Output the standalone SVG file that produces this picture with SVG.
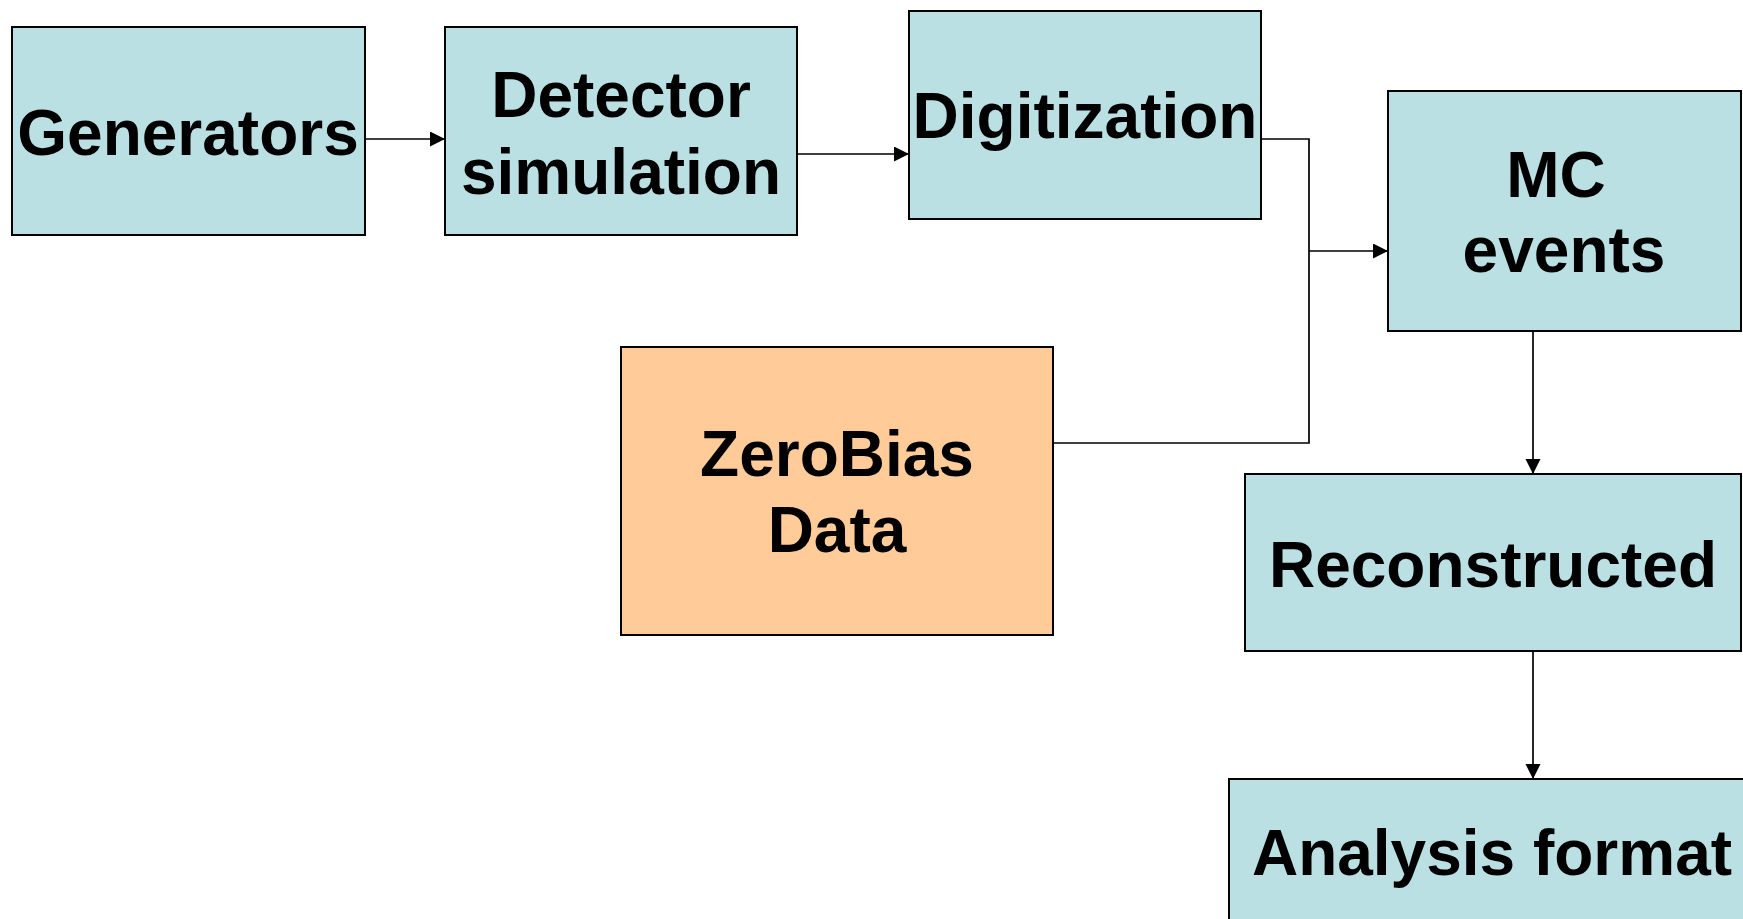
<svg xmlns="http://www.w3.org/2000/svg" width="1743" height="919" viewBox="0 0 1743 919">
  <style>
    .box { fill: #BBE0E3; stroke: #000; stroke-width: 2; }
    .box.data { fill: #FFCC99; }
    .label { font-family: "Liberation Sans", Arial, sans-serif; font-weight: bold; font-size: 64px; fill: #000; text-anchor: middle; }
    .wire { fill: none; stroke: #000; stroke-width: 1.7; }
  </style>
  <defs>
    <marker id="arrow" markerUnits="userSpaceOnUse" markerWidth="16" markerHeight="16" refX="15" refY="7.5" orient="auto">
      <path d="M0,0 L15,7.5 L0,15 z" fill="#000"/>
    </marker>
  </defs>
  <rect width="1743" height="919" fill="#fff"/>

  <g id="connectors">
    <line class="wire" x1="365" y1="139" x2="445" y2="139" marker-end="url(#arrow)"/>
    <line class="wire" x1="797" y1="154" x2="909" y2="154" marker-end="url(#arrow)"/>
    <polyline class="wire" points="1261,139 1309,139 1309,443 1053,443"/>
    <line class="wire" x1="1309" y1="251" x2="1388" y2="251" marker-end="url(#arrow)"/>
    <line class="wire" x1="1533" y1="331" x2="1533" y2="474" marker-end="url(#arrow)"/>
    <line class="wire" x1="1533" y1="651" x2="1533" y2="779" marker-end="url(#arrow)"/>
  </g>

  <g id="generators">
    <rect class="box" x="12" y="27" width="353" height="208"/>
    <text class="label" x="188" y="155">Generators</text>
  </g>

  <g id="detector-simulation">
    <rect class="box" x="445" y="27" width="352" height="208"/>
    <text class="label" x="621" y="117">Detector</text>
    <text class="label" x="621" y="194">simulation</text>
  </g>

  <g id="digitization">
    <rect class="box" x="909" y="11" width="352" height="208"/>
    <text class="label" x="1085" y="138">Digitization</text>
  </g>

  <g id="mc-events">
    <rect class="box" x="1388" y="91" width="353" height="240"/>
    <text class="label" x="1556" y="197">MC</text>
    <text class="label" x="1564" y="272">events</text>
  </g>

  <g id="zerobias-data">
    <rect class="box data" x="621" y="347" width="432" height="288"/>
    <text class="label" x="837" y="476">ZeroBias</text>
    <text class="label" x="837" y="552">Data</text>
  </g>

  <g id="reconstructed">
    <rect class="box" x="1245" y="474" width="496" height="177"/>
    <text class="label" x="1493" y="587">Reconstructed</text>
  </g>

  <g id="analysis-format">
    <rect class="box" x="1229" y="779" width="540" height="170"/>
    <text class="label" x="1492" y="875">Analysis format</text>
  </g>
</svg>
